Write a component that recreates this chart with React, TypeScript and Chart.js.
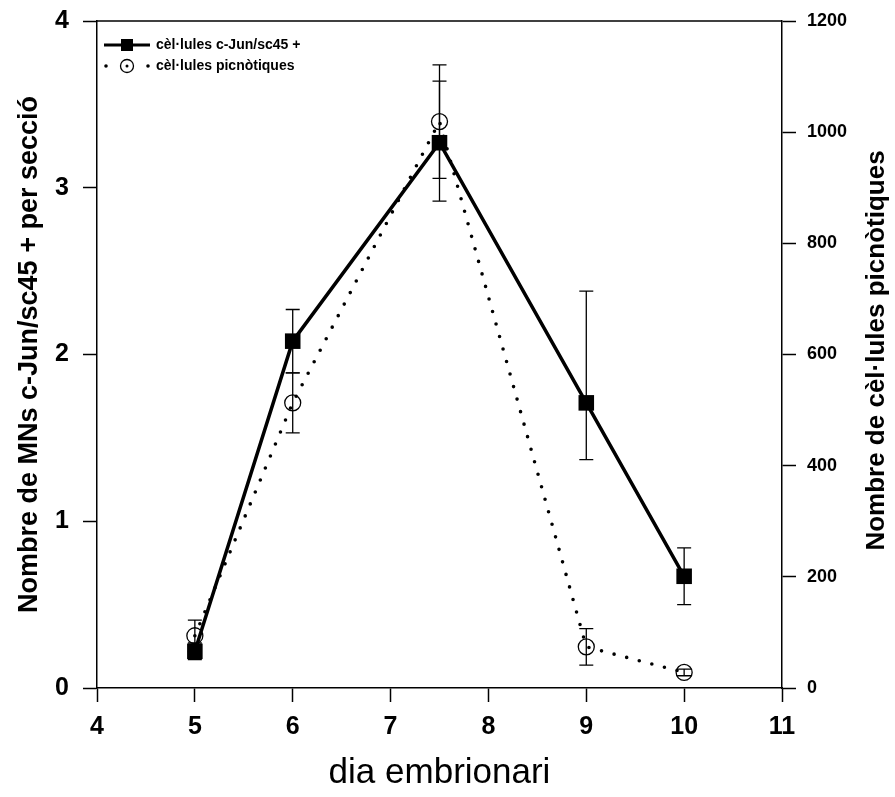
import React, { useEffect, useRef } from 'react';
import { Chart, registerables } from 'chart.js';

Chart.register(...registerables);

// ---- data ----
const days = [5, 6, 7.5, 9, 10];
const cJunMean = [0.22, 2.08, 3.27, 1.71, 0.67];
const cJunErrUp = [0.05, 0.19, 0.37, 0.67, 0.17];
const cJunErrDown = [0.05, 0.19, 0.35, 0.34, 0.17];
const picnoMean = [94, 513, 1019, 74, 28];
const picnoErr = [28, 54, 102, 33, 6];
const xTicks = [4, 5, 6, 7, 8, 9, 10, 11];
const leftTicks = [0, 1, 2, 3, 4];
const rightTicks = [0, 200, 400, 600, 800, 1000, 1200];

const seriesLabels = ['cèl·lules c-Jun/sc45 +', 'cèl·lules picnòtiques'];
const xTitle = 'dia embrionari';
const leftTitle = 'Nombre de MNs c-Jun/sc45 + per secció';
const rightTitle = 'Nombre de cèl·lules picnòtiques';

const FONT = '"Liberation Sans", Arial, sans-serif';

const errorBars = {
  id: 'errorBars',
  beforeDatasetsDraw(chart: any) {
    const ctx = chart.ctx;
    const x = chart.scales.x;
    const y = chart.scales.y;
    const y1 = chart.scales.y1;
    ctx.save();
    ctx.strokeStyle = '#000';
    ctx.lineWidth = 1.3;
    const cap = 7;
    const drawBar = (px: number, top: number, bot: number) => {
      ctx.beginPath();
      ctx.moveTo(px, top);
      ctx.lineTo(px, bot);
      ctx.moveTo(px - cap, top);
      ctx.lineTo(px + cap, top);
      ctx.moveTo(px - cap, bot);
      ctx.lineTo(px + cap, bot);
      ctx.stroke();
    };
    days.forEach((d, i) => {
      const px = x.getPixelForValue(d);
      drawBar(
        px,
        y.getPixelForValue(cJunMean[i] + cJunErrUp[i]),
        y.getPixelForValue(cJunMean[i] - cJunErrDown[i])
      );
      drawBar(
        px,
        y1.getPixelForValue(picnoMean[i] + picnoErr[i]),
        y1.getPixelForValue(picnoMean[i] - picnoErr[i])
      );
    });
    ctx.restore();
  },
};

const decorations = {
  id: 'decorations',
  afterDraw(chart: any) {
    const ctx = chart.ctx;
    const { left, right, top, bottom } = chart.chartArea;
    ctx.save();
    // top frame line
    ctx.strokeStyle = '#000';
    ctx.lineWidth = 1.5;
    ctx.beginPath();
    ctx.moveTo(left, top);
    ctx.lineTo(right, top);
    ctx.stroke();

    // right axis title (reads bottom-to-top)
    ctx.fillStyle = '#000';
    ctx.font = `bold 26px ${FONT}`;
    ctx.textAlign = 'center';
    ctx.textBaseline = 'middle';
    ctx.save();
    ctx.translate(877, (top + bottom) / 2 - 4);
    ctx.rotate(-Math.PI / 2);
    ctx.fillText(rightTitle, 0, 0);
    ctx.restore();

    // legend
    const row1 = 45;
    const row2 = 66;
    const sx0 = left + 7;
    const sx1 = left + 53;
    const sc = (sx0 + sx1) / 2;
    ctx.lineWidth = 3;
    ctx.beginPath();
    ctx.moveTo(sx0, row1);
    ctx.lineTo(sx1, row1);
    ctx.stroke();
    ctx.fillRect(sc - 6, row1 - 6, 12, 12);

    ctx.beginPath();
    ctx.arc(sx0 + 2, row2, 1.8, 0, Math.PI * 2);
    ctx.arc(sx1 - 2, row2, 1.8, 0, Math.PI * 2);
    ctx.fill();
    ctx.lineWidth = 1.3;
    ctx.beginPath();
    ctx.arc(sc, row2, 6.5, 0, Math.PI * 2);
    ctx.stroke();
    ctx.beginPath();
    ctx.arc(sc, row2, 1.5, 0, Math.PI * 2);
    ctx.fill();

    ctx.font = `bold 14px ${FONT}`;
    ctx.textAlign = 'left';
    ctx.fillText(seriesLabels[0], sx1 + 6, row1);
    ctx.fillText(seriesLabels[1], sx1 + 6, row2);
    ctx.restore();
  },
};

export default function App() {
  const ref = useRef<HTMLCanvasElement | null>(null);

  useEffect(() => {
    document.body.style.margin = '0';
    const canvas = ref.current;
    if (!canvas) return;
    const axisCommon = {
      grid: {
        drawOnChartArea: false,
        drawTicks: true,
        tickLength: 14,
        tickWidth: 1.5,
        tickColor: '#000',
      },
      border: { display: true, color: '#000', width: 1.5 },
    };
    const chart = new Chart(canvas, {
      type: 'scatter',
      data: {
        datasets: [
          {
            label: seriesLabels[0],
            data: days.map((d, i) => ({ x: d, y: cJunMean[i] })),
            yAxisID: 'y',
            showLine: true,
            borderColor: '#000',
            borderWidth: 3.5,
            pointStyle: 'rect',
            pointRadius: 11,
            pointBackgroundColor: '#000',
            pointBorderColor: '#000',
            pointBorderWidth: 0,
          },
          {
            label: seriesLabels[1],
            data: days.map((d, i) => ({ x: d, y: picnoMean[i] })),
            yAxisID: 'y1',
            showLine: true,
            borderColor: '#000',
            borderWidth: 3.6,
            borderDash: [0, 13],
            borderCapStyle: 'round',
            pointStyle: 'circle',
            pointRadius: 8,
            pointBackgroundColor: 'rgba(0,0,0,0)',
            pointBorderColor: '#000',
            pointBorderWidth: 1.3,
          },
        ],
      },
      options: {
        animation: false,
        responsive: false,
        maintainAspectRatio: false,
        layout: { padding: { top: 21, left: 0, right: 0, bottom: 0 } },
        plugins: { legend: { display: false }, tooltip: { enabled: false } },
        scales: {
          x: {
            type: 'linear',
            position: 'bottom',
            min: 4,
            max: 11,
            ...axisCommon,
            afterBuildTicks: (s: any) => {
              s.ticks = xTicks.map((v) => ({ value: v }));
            },
            afterFit: (s: any) => {
              s.height = 109;
              s.paddingLeft = 0;
              s.paddingRight = 0;
            },
            ticks: {
              color: '#000',
              padding: 10,
              font: { family: FONT, size: 25, weight: 'bold' },
            },
            title: {
              display: true,
              text: xTitle,
              color: '#000',
              font: { family: FONT, size: 35 },
              padding: { top: 0, bottom: 3 },
            },
          },
          y: {
            type: 'linear',
            position: 'left',
            min: 0,
            max: 4,
            ...axisCommon,
            afterBuildTicks: (s: any) => {
              s.ticks = leftTicks.map((v) => ({ value: v }));
            },
            afterFit: (s: any) => {
              s.width = 97;
              s.paddingTop = 0;
              s.paddingBottom = 0;
            },
            ticks: {
              color: '#000',
              padding: 14,
              font: { family: FONT, size: 25, weight: 'bold' },
            },
            title: {
              display: true,
              text: leftTitle,
              color: '#000',
              font: { family: FONT, size: 27, weight: 'bold' },
              padding: { top: 13, bottom: 0 },
            },
          },
          y1: {
            type: 'linear',
            position: 'right',
            min: 0,
            max: 1200,
            ...axisCommon,
            afterBuildTicks: (s: any) => {
              s.ticks = rightTicks.map((v) => ({ value: v }));
            },
            afterFit: (s: any) => {
              s.width = 113;
              s.paddingTop = 0;
              s.paddingBottom = 0;
            },
            ticks: {
              color: '#000',
              padding: 11,
              font: { family: FONT, size: 18, weight: 'bold' },
              callback: (v: any) => String(v),
            },
          },
        },
      },
      plugins: [errorBars, decorations],
    } as any);
    return () => chart.destroy();
  }, []);

  return (
    <div style={{ width: 895, height: 797, background: '#fff' }}>
      <canvas ref={ref} width={895} height={797} style={{ display: 'block' }} />
    </div>
  );
}
